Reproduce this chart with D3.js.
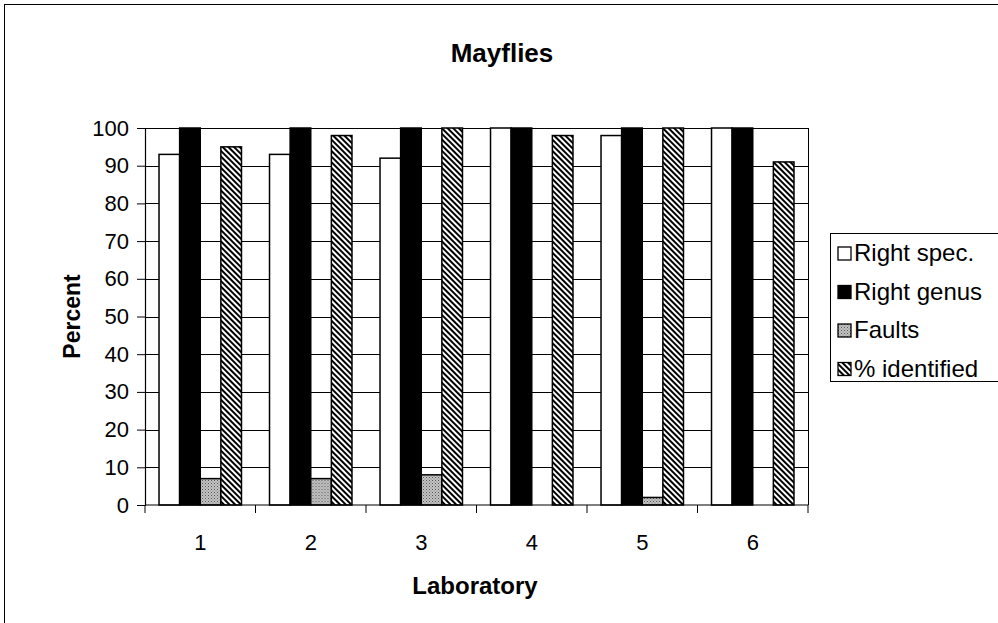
<!DOCTYPE html>
<html>
<head>
<meta charset="utf-8">
<script src="https://cdn.jsdelivr.net/npm/d3@7"></script>
<style>
  body { margin: 0; background: #fff; }
  svg text { font-family: "Liberation Sans", Arial, sans-serif; fill: #000; }
</style>
</head>
<body>
<svg id="chart" width="998" height="623"></svg>
<script>
// data
var labs = ["1", "2", "3", "4", "5", "6"];
var seriesNames = ["Right spec.", "Right genus", "Faults", "% identified"];
var rightSpec = [93, 93, 92, 100, 98, 100];
var rightGenus = [100, 100, 100, 100, 100, 100];
var faults = [7, 7, 8, 0, 2, 0];
var identified = [95, 98, 100, 98, 100, 91];
var yTicks = [0, 10, 20, 30, 40, 50, 60, 70, 80, 90, 100];

var svg = d3.select('#chart');
var margin = { left: 145, right: 190, top: 128, bottom: 118 };
var W = 998, H = 623;

// patterns for grey stipple and diagonal hatch
var defs = svg.append('defs');
var dots = defs.append('pattern').attr('id', 'dots')
    .attr('width', 3).attr('height', 3).attr('patternUnits', 'userSpaceOnUse');
dots.append('rect').attr('width', 3).attr('height', 3).attr('fill', '#c4c4c4');
dots.append('rect').attr('width', 1).attr('height', 1).attr('fill', '#555');
dots.append('rect').attr('x', 1.5).attr('y', 1.5).attr('width', 1).attr('height', 1).attr('fill', '#777');

var hatch = defs.append('pattern').attr('id', 'hatch')
    .attr('width', 4).attr('height', 4).attr('patternUnits', 'userSpaceOnUse')
    .attr('patternTransform', 'rotate(45)');
hatch.append('rect').attr('width', 4).attr('height', 4).attr('fill', '#fff');
hatch.append('rect').attr('width', 4).attr('height', 2).attr('fill', '#000');

var fills = ['#fff', '#000', 'url(#dots)', 'url(#hatch)'];

// outer frame
svg.append('rect')
    .attr('x', 4.5).attr('y', 4.5)
    .attr('width', 1000).attr('height', 640)
    .attr('fill', 'none').attr('stroke', '#000').attr('stroke-width', 1);

var x = d3.scaleBand()
    .domain(labs)
    .range([margin.left, W - margin.right])
    .paddingInner(0).paddingOuter(0);

var xs = d3.scaleBand()
    .domain(seriesNames)
    .range([0, x.bandwidth()])
    .paddingOuter(0.68).paddingInner(0);

var y = d3.scaleLinear()
    .domain([0, 100])
    .range([H - margin.bottom, margin.top]);

// grid
svg.append('g').selectAll('line')
    .data(yTicks.slice(1))
    .enter().append('line')
    .attr('x1', margin.left).attr('x2', W - margin.right)
    .attr('y1', function (d) { return Math.round(y(d)) + 0.5; })
    .attr('y2', function (d) { return Math.round(y(d)) + 0.5; })
    .attr('stroke', '#000').attr('stroke-width', 1.2);

// right border of plot area
svg.append('line')
    .attr('x1', W - margin.right + 0.5).attr('x2', W - margin.right + 0.5)
    .attr('y1', margin.top).attr('y2', H - margin.bottom)
    .attr('stroke', '#000');

// bars
var allSeries = [rightSpec, rightGenus, faults, identified];
var rows = labs.map(function (lab, i) {
    return seriesNames.map(function (s, j) {
        return { lab: lab, key: s, value: allSeries[j][i], idx: j };
    });
});

svg.append('g').selectAll('g')
    .data(rows)
    .enter().append('g')
    .attr('transform', function (d) { return 'translate(' + x(d[0].lab) + ',0)'; })
    .selectAll('rect')
    .data(function (d) { return d; })
    .enter().append('rect')
    .attr('x', function (d) { return xs(d.key); })
    .attr('width', xs.bandwidth())
    .attr('y', function (d) { return y(d.value); })
    .attr('height', function (d) { return y(0) - y(d.value); })
    .attr('fill', function (d) { return fills[d.idx]; })
    .attr('stroke', '#000').attr('stroke-width', 1.5);

// axes
var yAxis = d3.axisLeft(y).tickValues(yTicks).tickSize(8).tickPadding(8);
var gy = svg.append('g')
    .attr('transform', 'translate(' + margin.left + ',0)')
    .call(yAxis);
gy.selectAll('text').style('font-size', '22px');

var gx = svg.append('g')
    .attr('transform', 'translate(0,' + (H - margin.bottom) + ')');
gx.append('line')
    .attr('x1', margin.left).attr('x2', W - margin.right)
    .attr('stroke', '#000').attr('stroke-width', 1.2);
gx.selectAll('line.tk')
    .data(labs.concat(['end']))
    .enter().append('line')
    .attr('class', 'tk')
    .attr('x1', function (d, i) { return margin.left + i * x.bandwidth(); })
    .attr('x2', function (d, i) { return margin.left + i * x.bandwidth(); })
    .attr('y1', 0).attr('y2', 8)
    .attr('stroke', '#000');
gx.selectAll('text')
    .data(labs)
    .enter().append('text')
    .attr('x', function (d) { return x(d) + x.bandwidth() / 2; })
    .attr('y', 45)
    .attr('text-anchor', 'middle')
    .style('font-size', '22px')
    .text(function (d) { return d; });

svg.selectAll('.domain').attr('stroke', '#000').attr('stroke-width', 1.2);
svg.selectAll('.tick line').attr('stroke', '#000');

// titles
svg.append('text')
    .attr('x', 502).attr('y', 62)
    .attr('text-anchor', 'middle')
    .style('font-size', '26px').style('font-weight', 'bold')
    .text('Mayflies');

svg.append('text')
    .attr('x', 475).attr('y', 594)
    .attr('text-anchor', 'middle')
    .style('font-size', '24px').style('font-weight', 'bold')
    .text('Laboratory');

svg.append('text')
    .attr('transform', 'translate(80,' + y(50) + ') rotate(-90)')
    .attr('text-anchor', 'middle')
    .style('font-size', '23px').style('font-weight', 'bold')
    .text('Percent');

// legend
var legend = svg.append('g');
legend.append('rect')
    .attr('x', 830.5).attr('y', 233.5)
    .attr('width', 180).attr('height', 148)
    .attr('fill', '#fff').attr('stroke', '#000');

var items = legend.selectAll('g.item')
    .data(seriesNames)
    .enter().append('g')
    .attr('class', 'item')
    .attr('transform', function (d, i) { return 'translate(838,' + (247 + i * 38.5) + ')'; });
items.append('rect')
    .attr('width', 13).attr('height', 13)
    .attr('fill', function (d, i) { return fills[i]; })
    .attr('stroke', '#000').attr('stroke-width', 1.3);
items.append('text')
    .attr('x', 16).attr('y', 14)
    .style('font-size', '24px')
    .text(function (d) { return d; });
</script>
</body>
</html>
